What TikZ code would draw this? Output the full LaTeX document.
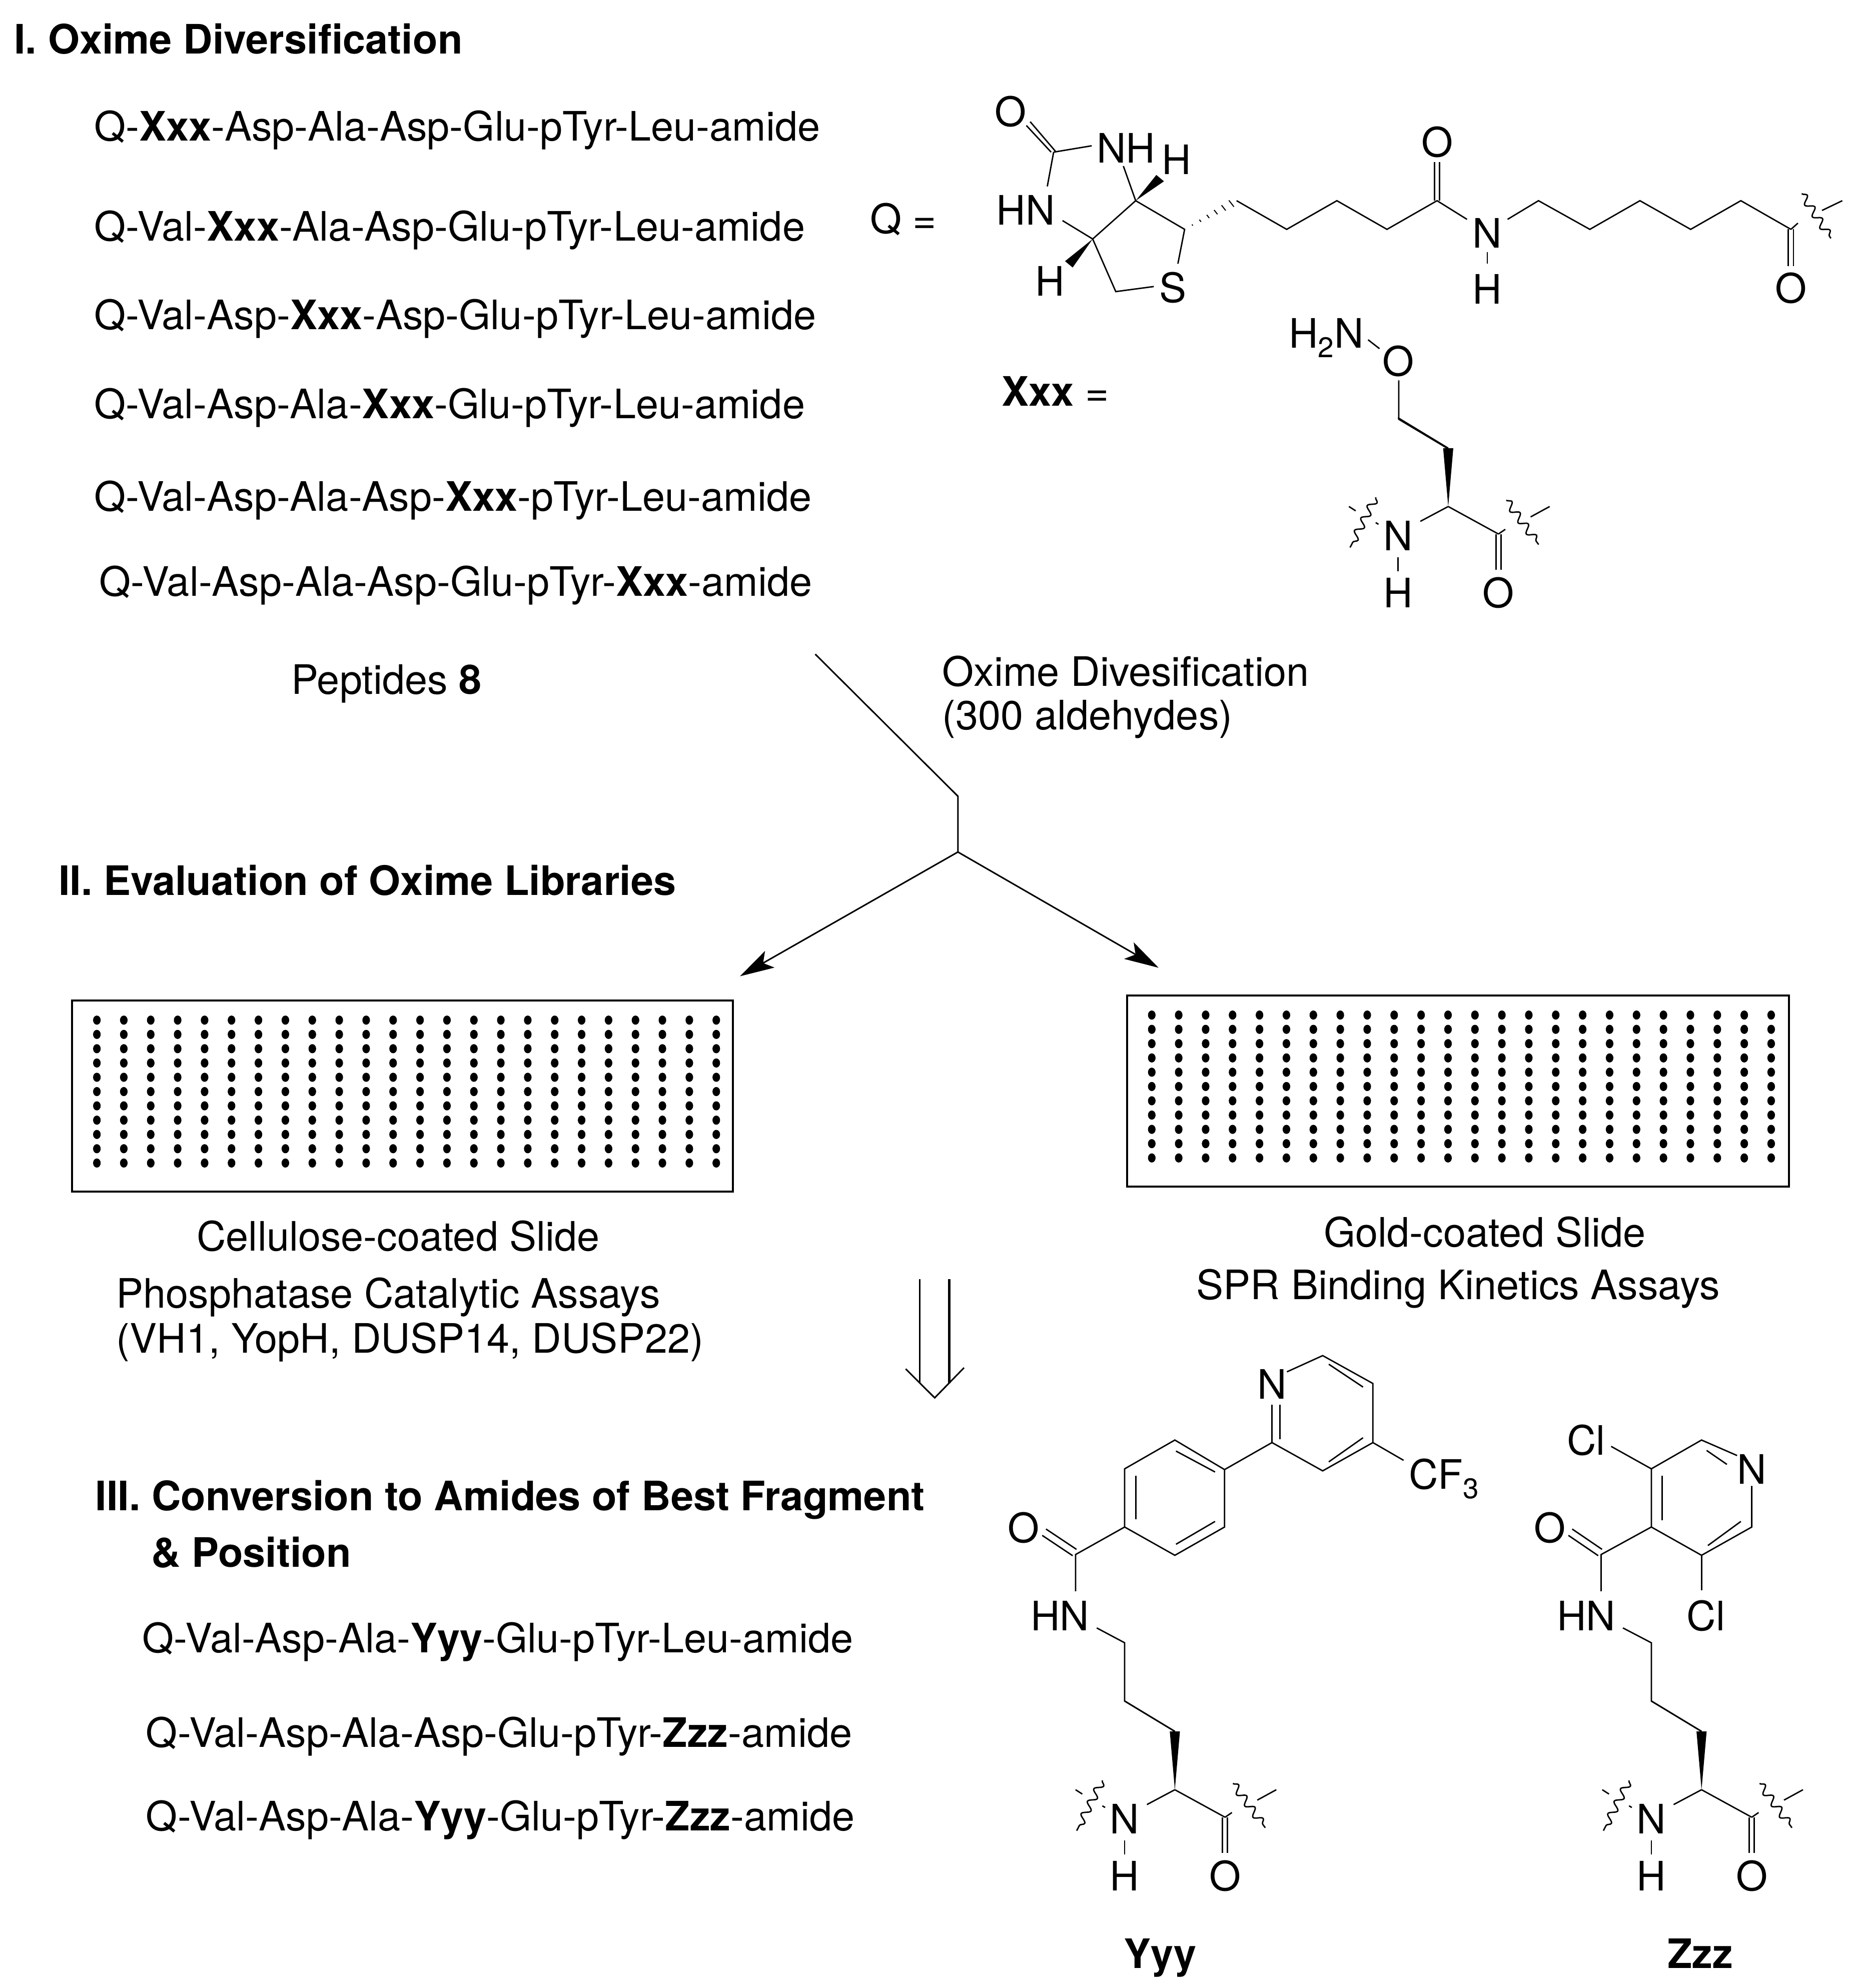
\documentclass[tikz,border=0pt]{standalone}
\usepackage{fontspec}
\setmainfont{TeX Gyre Heros}
\usetikzlibrary{decorations.pathmorphing,arrows.meta,calc}
\tikzset{
  x=1pt,y=-1pt,
  txt/.style={anchor=west,inner sep=0pt,text height=23pt,text depth=0pt,font=\fontsize{32}{38}\selectfont},
  hd/.style={anchor=west,inner sep=0pt,text height=23pt,text depth=0pt,font=\fontsize{32}{38}\selectfont\bfseries},
  atom/.style={inner sep=0pt,text height=23pt,text depth=0pt,font=\fontsize{32}{38}\selectfont},
  bond/.style={line width=1.1pt},
  wedge/.style={fill=black,draw=none},
  squig/.style={line width=1.1pt,decorate,decoration={snake,amplitude=3pt,segment length=11pt}},
  flow/.style={line width=1.2pt},
  slide/.style={draw,line width=1.6pt},
  spot/.style={fill=black,draw=none},
  flowhead/.style={-{Stealth[length=27pt,width=15pt,inset=6pt]}}
}
% amino-acid backbone, origin = stereocentre
\newcommand{\backbone}[2]{%
 \begin{scope}[shift={(#1,#2)}]
  \fill[wedge] (-4,-46) -- (4,-46) -- (0,0) -- cycle;
  \draw[bond] (-39.6,-70) -- (0,-46);
  \draw[bond] (0,0) -- (-22,11.7);
  \draw[bond] (0,0) -- (39.6,21.7);
  \draw[bond] (37.6,21.7) -- (37.6,50);
  \draw[bond] (41.6,21.7) -- (41.6,50);
  \draw[bond] (-39.6,40) -- (-39.6,51);
  \draw[bond] (-78.3,0) -- (-73,3.4);
  \draw[bond] (-57.2,12.7) -- (-55,14);
  \draw[bond] (39.6,21.7) -- (45,18);
  \draw[bond] (65,8.2) -- (80,0);
  \draw[squig] (-57.2,-7.3) -- (-77.4,32.3);
  \draw[squig] (45.8,-5) -- (71.3,30);
  \node[atom] at (-39.6,23.3) {N};
  \node[atom] at (-39.6,68.3) {H};
  \node[atom] at (39.6,68.3) {O};
 \end{scope}}
\begin{document}
\begin{tikzpicture}
\useasboundingbox (0,0) rectangle (1459,1568);
% ---- headings and peptide lists
\node[hd] (h1) at (11,31) {I. Oxime Diversification};
\node[txt] (p1) at (74,99.5) {Q-\textbf{Xxx}-Asp-Ala-Asp-Glu-pTyr-Leu-amide};
\node[txt] (p2) at (74,178.5) {Q-Val-\textbf{Xxx}-Ala-Asp-Glu-pTyr-Leu-amide};
\node[txt] (p3) at (74,248.5) {Q-Val-Asp-\textbf{Xxx}-Asp-Glu-pTyr-Leu-amide};
\node[txt] (p4) at (74,318.5) {Q-Val-Asp-Ala-\textbf{Xxx}-Glu-pTyr-Leu-amide};
\node[txt] (p5) at (74,391.5) {Q-Val-Asp-Ala-Asp-\textbf{Xxx}-pTyr-Leu-amide};
\node[txt] (p6) at (78,458.5) {Q-Val-Asp-Ala-Asp-Glu-pTyr-\textbf{Xxx}-amide};
\node[txt] (pep) at (229.5,536) {Peptides \textbf{8}};
\node[txt] (od1) at (743,529.5) {Oxime Divesification};
\node[txt] (od2) at (743,564) {(300 aldehydes)};
\node[txt] (qeq) at (686,172.5) {Q =};
\node[txt] (xeq) at (790,308.5) {\textbf{Xxx} =};
\node[hd] (h2) at (46,694.5) {II. Evaluation of Oxime Libraries};
\node[txt] (c1) at (155,975) {Cellulose-coated Slide};
\node[txt] (c2) at (91.5,1020) {Phosphatase Catalytic Assays};
\node[txt] (c3) at (91.5,1055.5) {(VH1, YopH, DUSP14, DUSP22)};
\node[txt] (g1) at (1044,972) {Gold-coated Slide};
\node[txt] (g2) at (943.5,1013.5) {SPR Binding Kinetics Assays};
\node[hd] (h3) at (75,1180) {III. Conversion to Amides of Best Fragment};
\node[hd] (h3b) at (119,1224.5) {\& Position};
\node[txt] (r1) at (112,1292) {Q-Val-Asp-Ala-\textbf{Yyy}-Glu-pTyr-Leu-amide};
\node[txt] (r2) at (115,1366.5) {Q-Val-Asp-Ala-Asp-Glu-pTyr-\textbf{Zzz}-amide};
\node[txt] (r3) at (115,1432.5) {Q-Val-Asp-Ala-\textbf{Yyy}-Glu-pTyr-\textbf{Zzz}-amide};
\node[atom,font=\fontsize{32}{38}\selectfont\bfseries] (yyy) at (915,1541) {Yyy};
\node[atom,font=\fontsize{32}{38}\selectfont\bfseries] (zzz) at (1341,1541) {Zzz};
% ---- flow lines
\coordinate (f1) at (643,516);
\coordinate (f2) at (755.5,628);
\coordinate (f3) at (755.5,672);
\coordinate (fl) at (583.6,770);
\coordinate (fr) at (913.8,763.3);
\draw[flow] (f1) -- (f2) -- (f3);
\draw[flow,flowhead] (f3) -- (fl);
\draw[flow,flowhead] (f3) -- (fr);
% ---- slides
\node[slide,minimum width=521pt,minimum height=151pt,inner sep=0pt] (sl) at (317.5,864.5) {};
\node[slide,minimum width=522pt,minimum height=151pt,inner sep=0pt] (sr) at (1150,860.5) {};
\foreach \i in {0,...,23}{\foreach \j in {0,...,10}{
  \fill[spot] (76.4+21.24*\i,804.6+11.27*\j) circle[x radius=3pt,y radius=3.6pt];
  \fill[spot] (908.4+21.24*\i,800.6+11.27*\j) circle[x radius=3pt,y radius=3.6pt];
}}
% ---- double open arrow
\coordinate (dl) at (725.3,1009);
\coordinate (dlb) at (725.3,1091);
\coordinate (dr) at (748.7,1009);
\coordinate (drb) at (748.7,1091);
\coordinate (dh1) at (714.3,1079.7);
\coordinate (dtip) at (737.2,1102.5);
\coordinate (dh2) at (760.3,1078.8);
\draw[line width=1.3pt] (dl) -- (dlb);
\draw[line width=1.7pt] (dr) -- (drb);
\draw[line width=1.2pt] (dh1) -- (dtip) -- (dh2);
% ---- Q: biotin
\node[atom] at (797,88) {O};
\node[atom] at (888,117) {NH};
\node[atom] at (809,166) {HN};
\node[atom] at (928,126) {H};
\node[atom] at (828,222) {H};
\node[atom] at (925,227) {S};
\draw[bond] (829,120) -- (809.5,99);
\draw[bond] (833,120) -- (812.5,96);
\draw[bond] (831,120) -- (861,115);
\draw[bond] (831,120) -- (826,147);
\draw[bond] (886,131) -- (895.7,158.3) -- (861.8,188.5) -- (838,174);
\draw[bond] (895.7,158.3) -- (934.3,180.9) -- (929,208);
\draw[bond] (861.8,188.5) -- (880,230) -- (910,226);
\fill[wedge] (895.7,158.3) -- (912,138) -- (918,143) -- cycle;
\fill[wedge] (861.8,188.5) -- (840,206) -- (846,211) -- cycle;
\foreach \t in {0.15,0.3,0.45,0.6,0.75,0.9}
  \draw[line width=.8pt] ($(934.3,180.9)!\t!(975.3,158.3)+({-\t*2.2},{-\t*2.8})$) -- ($(934.3,180.9)!\t!(975.3,158.3)+({\t*2.2},{\t*2.8})$);
\draw[bond] (975.3,158.3) -- (1014.8,180.9) -- (1054.4,158.3) -- (1093.9,180.9) -- (1133.4,158.3) -- (1157,173);
\draw[bond] (1131.4,158.3) -- (1131.4,128);
\draw[bond] (1135.4,158.3) -- (1135.4,128);
\node[atom] at (1133.4,112) {O};
\node[atom] at (1173,184) {N};
\draw[bond] (1173,199) -- (1173,208);
\node[atom] at (1173,228) {H};
\draw[bond] (1189,173) -- (1213.4,158.3) -- (1253.9,180.9) -- (1293.4,158.3) -- (1333.4,180.9) -- (1373,158.3) -- (1412.5,180.9);
\draw[bond] (1410.5,180.9) -- (1410.5,210);
\draw[bond] (1414.5,180.9) -- (1414.5,210);
\node[atom] at (1412.5,227.5) {O};
\draw[bond] (1412.5,180.9) -- (1418,176);
\draw[bond] (1437,166) -- (1453,158.3);
\draw[squig] (1421,152.7) -- (1444,188);
% ---- Xxx
\node[atom,anchor=center] at (1046,263) {H$_{\mathrm{2}}$N};
\node[atom] at (1103,285) {O};
\draw[bond] (1079,268) -- (1088,275);
\draw[bond] (1103.2,300) -- (1103.2,330.7) -- (1142.2,354);
\backbone{1142.2}{399.5}
% ---- Yyy
\node[atom] at (1003.2,1092) {N};
\draw[bond] (1015,1082) -- (1043.2,1069.2) -- (1082.8,1091.2) -- (1082.8,1137.8) -- (1043.2,1160.1) -- (1003.2,1137.8) -- (1003.2,1108);
\draw[bond] (1009.6,1135) -- (1009.6,1108);
\draw[bond] (1048,1076) -- (1075,1094);
\draw[bond] (1048,1153) -- (1075,1134);
\draw[bond] (1082.8,1137.8) -- (1107,1151.8);
\node[atom,anchor=west] at (1111,1163) {CF$_{\mathrm{3}}$};
\draw[bond] (1003.2,1137.8) -- (965.8,1159.1);
\draw[bond] (965.8,1159.1) -- (926.6,1135.8) -- (887,1158.5) -- (887,1204.4) -- (926.6,1226.7) -- (965.8,1204.4) -- cycle;
\draw[bond] (927.5,1144.5) -- (958.3,1161);
\draw[bond] (895.8,1164) -- (895.8,1198.4);
\draw[bond] (927.5,1218) -- (958.3,1200);
\draw[bond] (887,1204.4) -- (848.3,1226.1) -- (848.3,1255);
\draw[bond] (846,1227) -- (822,1211);
\draw[bond] (849,1222) -- (825,1206);
\node[atom] at (807.4,1205) {O};
\node[atom] at (836,1274.4) {HN};
\draw[bond] (865,1284) -- (887,1295.7) -- (887,1341.7) -- (926.6,1365.6);
\backbone{926.6}{1411.6}
% ---- Zzz
\node[atom] at (1250.9,1136) {Cl};
\draw[bond] (1270.7,1140.8) -- (1302.4,1158.5);
\draw[bond] (1302.4,1158.5) -- (1342,1135.8) -- (1370,1148);
\draw[bond] (1381.6,1172) -- (1381.6,1204.4) -- (1342,1226.7) -- (1302.4,1204.4) -- (1302.4,1158.5);
\draw[bond] (1346,1144) -- (1362,1155);
\draw[bond] (1311,1164) -- (1311,1199);
\draw[bond] (1347,1219) -- (1373,1200);
\node[atom] at (1381.6,1159) {N};
\draw[bond] (1342,1226.7) -- (1342,1254.4);
\node[atom] at (1345.5,1274.4) {Cl};
\draw[bond] (1302.4,1204.4) -- (1262.8,1226.1) -- (1262.8,1255);
\draw[bond] (1260.5,1227) -- (1237,1211);
\draw[bond] (1263.5,1222) -- (1240,1206);
\node[atom] at (1222.3,1205) {O};
\node[atom] at (1251,1274.4) {HN};
\draw[bond] (1280,1284) -- (1302.4,1295.7) -- (1302.4,1341.7) -- (1342,1365.6);
\backbone{1342}{1411.6}
\end{tikzpicture}
\end{document}
